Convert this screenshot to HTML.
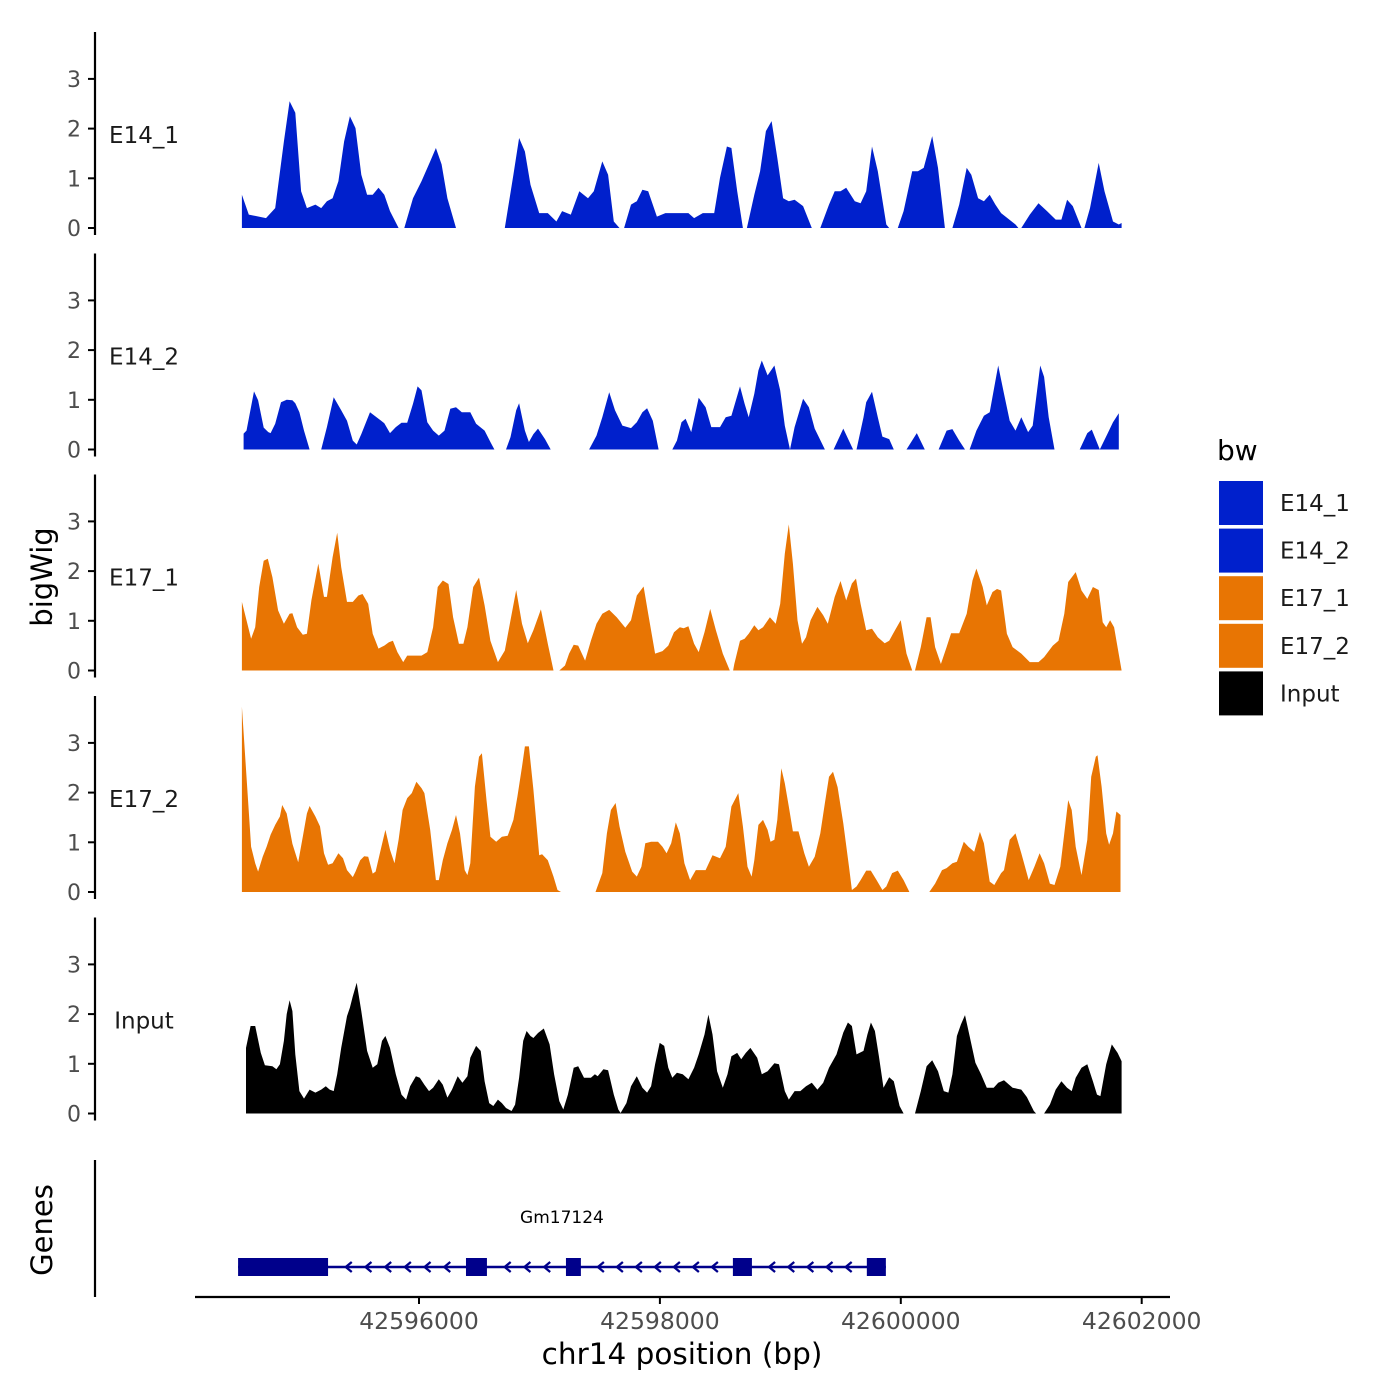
<!DOCTYPE html>
<html><head><meta charset="utf-8">
<style>
body{margin:0;background:#fff;}
svg{display:block;font-family:"DejaVu Sans","Liberation Sans",sans-serif;}
.tk{font-size:20px;fill:#4d4d4d;text-anchor:end;}
</style></head>
<body>
<svg id="chart" width="1400" height="1400" viewBox="0 0 1400 1400" xmlns="http://www.w3.org/2000/svg">
<g id="tracks"></g>
<g id="axes"></g>
<g id="genes"></g>
<g id="legend"></g>
</svg>
<script>
const trackNames = ["E14_1","E14_2","E17_1","E17_2","Input"];
const trackColors = ["#0020CC","#0020CC","#E87503","#E87503","#000000"];
const yTicks = [0,1,2,3];
const xTicks = [42596000,42598000,42600000,42602000];
const xTickLabels = ["42596000","42598000","42600000","42602000"];

const e14_1_pos = [42594530,42594587,42594730,42594806,42594878,42594926,42594973,42595021,42595069,42595140,42595188,42595235,42595283,42595331,42595378,42595426,42595473,42595521,42595569,42595616,42595664,42595712,42595759,42595831,null,
42595878,42595950,42596021,42596093,42596140,42596188,42596236,42596307,null,
42596712,42596784,42596831,42596879,42596926,42596998,42597069,42597141,42597188,42597260,42597331,42597403,42597451,42597522,42597570,42597617,42597665,null,
42597703,42597760,42597808,42597855,42597903,42597975,42598046,42598237,42598284,42598356,42598451,42598499,42598556,42598594,42598642,42598689,null,
42598722,42598784,42598832,42598880,42598927,42598975,42599023,42599070,42599118,42599189,42599261,null,
42599332,42599404,42599451,42599499,42599547,42599618,42599666,42599713,42599761,42599809,42599880,42599904,null,
42599975,42600023,42600095,42600142,42600190,42600261,42600309,42600366,null,
42600428,42600485,42600547,42600585,42600642,42600690,42600738,42600785,42600833,42600952,42600976,null,
42601000,42601071,42601143,42601214,42601286,42601333,42601381,42601428,42601500,null,
42601524,42601571,42601643,42601691,42601762,42601810,42601833];
const e14_1_val = [0.67,0.27,0.20,0.40,1.74,2.55,2.32,0.74,0.40,0.47,0.40,0.54,0.60,0.94,1.74,2.25,2.01,1.07,0.67,0.67,0.81,0.67,0.34,0,null,
0,0.60,0.94,1.34,1.61,1.28,0.60,0,null,
0,1.07,1.81,1.54,0.87,0.30,0.30,0.13,0.34,0.27,0.74,0.60,0.74,1.34,1.07,0.13,0,null,
0,0.47,0.54,0.77,0.74,0.23,0.30,0.30,0.20,0.30,0.30,1.01,1.64,1.61,0.74,0,null,
0,0.67,1.14,1.95,2.15,1.41,0.60,0.54,0.57,0.44,0,null,
0,0.47,0.74,0.74,0.81,0.54,0.50,0.74,1.64,1.14,0.07,0,null,
0,0.34,1.14,1.14,1.21,1.85,1.21,0,null,
0,0.47,1.21,1.07,0.60,0.54,0.67,0.47,0.30,0.07,0,null,
0,0.27,0.50,0.34,0.17,0.17,0.57,0.44,0,null,
0,0.40,1.31,0.74,0.13,0.07,0.10];

const e14_2_pos = [42594544,42594568,42594630,42594664,42594711,42594749,42594768,42594806,42594854,42594902,42594949,42594973,42595007,42595045,42595092,null,
42595188,42595235,42595292,42595354,42595402,42595450,42595483,42595521,42595593,42595664,42595712,42595759,42595807,42595855,42595902,42595950,42595988,42596021,42596069,42596117,42596164,42596212,42596260,42596307,42596355,42596426,42596474,42596545,42596593,42596626,null,
42596722,42596760,42596807,42596831,42596879,42596912,42596950,42596988,42597046,42597093,null,
42597412,42597474,42597522,42597579,42597627,42597689,42597760,42597808,42597855,42597894,42597941,42597989,null,
42598103,42598141,42598179,42598213,42598260,42598322,42598379,42598427,42598499,42598546,42598594,42598665,42598703,42598737,42598784,42598818,42598846,42598894,42598951,42598999,42599037,42599080,42599118,42599189,42599237,42599285,42599370,null,
42599442,42599523,42599604,null,
42599632,42599690,42599713,42599761,42599809,42599847,42599904,42599942,null,
42600047,42600133,42600199,null,
42600314,42600380,42600428,42600485,42600533,null,
42600571,42600628,42600690,42600738,42600809,42600857,42600904,42600952,42601000,42601057,42601095,42601157,42601190,42601228,42601276,null,
42601485,42601548,42601586,42601652,42601714,42601762,42601810];
const e14_2_val = [0.32,0.38,1.17,0.99,0.44,0.35,0.33,0.52,0.95,1.00,0.99,0.93,0.75,0.38,0,null,
0,0.45,1.05,0.79,0.58,0.18,0.10,0.31,0.75,0.62,0.53,0.33,0.45,0.54,0.54,0.92,1.27,1.19,0.55,0.38,0.28,0.38,0.82,0.85,0.75,0.75,0.52,0.38,0.15,0,null,
0,0.25,0.79,0.93,0.38,0.15,0.31,0.42,0.21,0,null,
0,0.28,0.65,1.15,0.79,0.48,0.43,0.55,0.75,0.83,0.58,0,null,
0,0.18,0.55,0.62,0.35,1.04,0.85,0.45,0.45,0.65,0.68,1.27,0.92,0.65,1.12,1.59,1.79,1.49,1.69,1.19,0.48,0,0.45,1.02,0.85,0.42,0,null,
0,0.42,0,null,
0,0.65,0.95,1.16,0.65,0.26,0.21,0,null,
0,0.33,0,null,
0,0.38,0.41,0.18,0,null,
0,0.38,0.68,0.75,1.69,1.12,0.58,0.38,0.65,0.35,0.48,1.69,1.46,0.65,0,null,
0,0.33,0.40,0,0.31,0.55,0.73];

const e17_1_pos = [42594530,42594568,42594606,42594640,42594673,42594711,42594745,42594783,42594830,42594878,42594926,42594949,42594988,42595035,42595069,42595107,42595164,42595211,42595235,42595283,42595321,42595354,42595402,42595450,42595497,42595531,42595578,42595616,42595664,42595712,42595750,42595783,42595821,42595869,42595902,42595950,42596021,42596069,42596117,42596155,42596198,42596245,42596283,42596331,42596369,42596402,42596450,42596498,42596545,42596593,42596655,42596712,42596760,42596807,42596855,42596903,42596950,42597012,42597069,42597117,null,
42597165,42597212,42597246,42597284,42597322,42597379,42597427,42597474,42597522,42597579,42597641,42597713,42597760,42597808,42597865,42597903,42597960,42598022,42598070,42598117,42598165,42598198,42598237,42598284,42598322,42598370,42598418,42598465,42598522,42598580,null,
42598608,42598618,42598665,42598703,42598737,42598784,42598818,42598856,42598913,42598961,42598999,42599037,42599070,42599104,42599142,42599180,42599213,42599251,42599308,42599356,42599394,42599451,42599499,42599547,42599594,42599628,42599666,42599713,42599761,42599809,42599866,42599904,42599952,42599999,42600047,42600095,null,
42600118,42600166,42600214,42600247,42600285,42600333,42600380,42600418,42600485,42600547,42600595,42600628,42600680,42600714,42600761,42600799,42600833,42600881,42600928,42601000,42601071,42601143,42601190,42601262,42601309,42601357,42601390,42601452,42601500,42601548,42601595,42601643,42601676,42601705,42601738,42601771,42601833];
const e17_1_val = [1.38,1.01,0.64,0.87,1.68,2.21,2.25,1.88,1.21,0.94,1.14,1.15,0.87,0.72,0.74,1.41,2.15,1.48,1.48,2.28,2.77,2.08,1.38,1.38,1.51,1.54,1.34,0.74,0.44,0.50,0.57,0.60,0.37,0.17,0.30,0.30,0.30,0.37,0.87,1.68,1.81,1.74,1.07,0.54,0.54,0.87,1.68,1.87,1.31,0.60,0.17,0.40,1.01,1.62,0.94,0.55,0.81,1.23,0.54,0,null,
0,0.10,0.34,0.52,0.50,0.20,0.60,0.94,1.14,1.22,1.07,0.86,1.01,1.51,1.69,1.14,0.34,0.39,0.50,0.77,0.87,0.85,0.89,0.54,0.37,0.77,1.24,0.81,0.34,0,null,
0,0.13,0.60,0.64,0.74,0.91,0.81,0.87,1.07,0.94,1.34,2.35,2.94,2.15,1.01,0.54,0.67,1.01,1.28,1.11,0.94,1.48,1.80,1.41,1.75,1.85,1.34,0.81,0.84,0.67,0.55,0.60,0.81,1.01,0.34,0,null,
0,0.47,1.07,1.07,0.47,0.13,0.47,0.75,0.75,1.14,1.81,2.05,1.68,1.31,1.58,1.64,1.61,0.74,0.47,0.34,0.17,0.17,0.27,0.50,0.60,1.14,1.78,1.98,1.61,1.44,1.68,1.62,0.97,0.87,1.01,0.87,0];

const e17_2_pos = [42594530,42594568,42594606,42594640,42594664,42594702,42594735,42594768,42594806,42594845,42594864,42594902,42594949,42594997,42595035,42595069,42595092,42595140,42595178,42595211,42595245,42595283,42595331,42595369,42595402,42595450,42595473,42595512,42595545,42595578,42595616,42595640,42595688,42595721,42595759,42595797,42595831,42595864,42595902,42595940,42595978,42596021,42596045,42596093,42596140,42596164,42596198,42596236,42596274,42596307,42596340,42596379,42596402,42596426,42596464,42596498,42596522,42596560,42596593,42596641,42596688,42596736,42596784,42596817,42596855,42596879,42596912,42596950,42596998,42597022,42597069,42597117,42597150,42597179,null,
42597465,42597522,42597560,42597593,42597632,42597665,42597713,42597770,42597808,42597846,42597879,42597927,42597984,42598022,42598056,42598094,42598132,42598165,42598203,42598251,42598298,42598379,42598437,42598499,42598546,42598594,42598651,42598689,42598727,42598761,42598784,42598818,42598856,42598894,42598918,42598951,42598975,42599008,42599037,42599070,42599104,42599151,42599199,42599237,42599285,42599332,42599370,42599404,42599437,42599475,42599523,42599570,42599594,42599632,42599666,42599713,42599751,42599799,42599847,42599880,42599928,42599975,42600023,42600071,null,
42600237,42600285,42600342,42600380,42600428,42600466,42600523,42600561,42600609,42600657,42600690,42600738,42600776,42600833,42600857,42600904,42600952,42601000,42601062,42601109,42601152,42601190,42601238,42601276,42601324,42601357,42601390,42601419,42601452,42601500,42601548,42601581,42601619,42601633,42601667,42601705,42601729,42601762,42601790,42601824];
const e17_2_val = [3.73,2.32,0.91,0.58,0.41,0.71,0.91,1.15,1.35,1.52,1.75,1.58,0.97,0.60,1.11,1.58,1.73,1.52,1.32,0.78,0.55,0.58,0.78,0.68,0.44,0.30,0.41,0.64,0.72,0.71,0.37,0.41,0.91,1.25,0.85,0.58,1.05,1.65,1.89,1.99,2.22,2.09,1.99,1.25,0.24,0.24,0.64,0.98,1.25,1.55,1.18,0.44,0.34,0.58,2.12,2.72,2.79,1.85,1.11,1.01,1.11,1.13,1.45,1.92,2.52,2.93,2.93,2.06,0.74,0.76,0.64,0.31,0.04,0,null,
0,0.38,1.18,1.65,1.79,1.32,0.81,0.41,0.31,0.51,0.98,1.01,1.01,0.91,0.78,0.98,1.40,1.18,0.58,0.24,0.44,0.44,0.74,0.68,0.91,1.72,1.99,1.32,0.51,0.31,0.64,1.35,1.45,1.25,1.01,1.05,1.45,2.49,2.19,1.72,1.22,1.22,0.78,0.51,0.71,1.18,1.79,2.32,2.42,2.11,1.38,0.51,0.04,0.11,0.24,0.43,0.43,0.24,0.04,0.11,0.38,0.43,0.24,0,null,
0,0.17,0.44,0.48,0.58,0.61,1.01,0.91,0.81,1.21,0.98,0.21,0.14,0.38,0.44,1.05,1.18,0.78,0.24,0.51,0.78,0.58,0.17,0.14,0.51,1.18,1.85,1.65,0.91,0.34,1.05,2.32,2.72,2.75,2.12,1.18,0.95,1.18,1.62,1.55];

const input_pos = [42594564,42594602,42594640,42594687,42594721,42594783,42594816,42594845,42594878,42594902,42594926,42594949,42594973,42595007,42595045,42595092,42595140,42595188,42595226,42595259,42595292,42595321,42595354,42595402,42595426,42595450,42595483,42595521,42595569,42595616,42595654,42595693,42595721,42595759,42595807,42595855,42595893,42595926,42595974,42596007,42596045,42596083,42596117,42596164,42596198,42596236,42596274,42596321,42596360,42596402,42596426,42596474,42596512,42596545,42596583,42596617,42596655,42596688,42596722,42596769,42596798,42596831,42596865,42596893,42596926,42596950,42596988,42597036,42597084,42597122,42597165,42597198,42597236,42597284,42597322,42597370,42597427,42597460,42597484,42597531,42597570,42597617,42597655,42597674,42597722,42597760,42597808,42597855,42597894,42597927,42597960,42597998,42598036,42598070,42598103,42598141,42598189,42598237,42598284,42598322,42598370,42598403,42598437,42598475,42598522,42598561,42598594,42598642,42598675,42598713,42598751,42598808,42598846,42598894,42598951,42598989,42599037,42599070,42599118,42599166,42599213,42599261,42599308,42599356,42599404,42599466,42599523,42599561,42599594,42599632,42599690,42599723,42599752,42599785,42599818,42599856,42599904,42599942,42599990,42600023,null,
42600118,42600166,42600214,42600261,42600309,42600357,42600395,42600428,42600466,42600499,42600533,42600571,42600619,42600666,42600714,42600771,42600809,42600857,42600928,42601000,42601047,42601104,42601123,null,
42601190,42601238,42601286,42601333,42601381,42601419,42601452,42601500,42601548,42601595,42601629,42601657,42601705,42601752,42601800,42601833];
const input_val = [1.32,1.76,1.76,1.22,0.97,0.95,0.89,0.99,1.46,2.00,2.28,2.06,1.19,0.45,0.30,0.48,0.42,0.48,0.55,0.48,0.45,0.79,1.32,1.96,2.13,2.36,2.63,2.06,1.26,0.92,0.99,1.46,1.56,1.32,0.79,0.38,0.28,0.55,0.75,0.72,0.58,0.45,0.52,0.69,0.58,0.32,0.48,0.75,0.62,0.75,1.12,1.36,1.26,0.65,0.21,0.15,0.28,0.21,0.11,0.05,0.18,0.72,1.46,1.66,1.56,1.52,1.62,1.71,1.39,0.79,0.25,0.08,0.38,0.92,0.95,0.72,0.72,0.79,0.75,0.89,0.87,0.38,0.08,0.01,0.21,0.55,0.75,0.52,0.42,0.55,0.99,1.42,1.36,0.92,0.72,0.82,0.79,0.69,0.92,1.19,1.59,1.99,1.59,0.85,0.52,0.79,1.15,1.22,1.09,1.22,1.32,1.12,0.79,0.85,1.01,0.99,0.45,0.28,0.45,0.45,0.55,0.62,0.48,0.62,0.92,1.19,1.63,1.83,1.76,1.19,1.26,1.59,1.83,1.66,1.15,0.52,0.73,0.65,0.15,0,null,
0,0.45,0.95,1.07,0.85,0.45,0.42,0.79,1.56,1.79,1.98,1.56,1.02,0.79,0.52,0.52,0.62,0.67,0.52,0.48,0.33,0.05,0,null,
0,0.18,0.48,0.65,0.52,0.45,0.72,0.92,0.99,0.65,0.38,0.35,0.99,1.39,1.22,1.05];

const trackPos = [e14_1_pos,e14_2_pos,e17_1_pos,e17_2_pos,input_pos];
const trackVal = [e14_1_val,e14_2_val,e17_1_val,e17_2_val,input_val];

const geneName = "Gm17124";
const geneStart = 42594498, geneEnd = 42599876;
const exonStarts = [42594498,42596390,42597220,42598606,42599718];
const exonEnds = [42595245,42596564,42597344,42598764,42599876];

const NS="http://www.w3.org/2000/svg";
function mk(tag,attrs,parent,text){const e=document.createElementNS(NS,tag);for(const k in attrs)e.setAttribute(k,attrs[k]);if(text!==undefined)e.textContent=text;parent.appendChild(e);return e;}
function xScale(bp){return 419+(bp-42596000)/1000*120.45;}
const panelBase=[228,449.5,670.5,892,1113.5];
const unitPx=49.7;
function yScale(i,v){return panelBase[i]-v*unitPx;}

const gT=document.getElementById('tracks');
const gA=document.getElementById('axes');
for(let i=0;i<5;i++){
  const pos=trackPos[i], val=trackVal[i];
  let d="", seg=[];
  const flush=()=>{ if(seg.length){ d+="M"+seg[0][0].toFixed(1)+","+panelBase[i]; seg.forEach(p=>{d+="L"+p[0].toFixed(1)+","+p[1].toFixed(1);}); d+="L"+seg[seg.length-1][0].toFixed(1)+","+panelBase[i]+"Z"; } seg=[]; };
  for(let j=0;j<pos.length;j++){
    if(pos[j]===null||val[j]===null){flush();continue;}
    seg.push([xScale(pos[j]),yScale(i,val[j])]);
  }
  flush();
  const p=mk('path',{d:d,fill:trackColors[i]},gT);
  
  
  const top=panelBase[i]-196, bot=panelBase[i]+7;
  const ax=mk('line',{x1:95,x2:95,y1:top,y2:bot,stroke:'#000','stroke-width':2.2},gA);
  
  
  yTicks.forEach(t=>{
    const y=yScale(i,t);
    const tl=mk('line',{x1:88,x2:95,y1:y,y2:y,stroke:'#000','stroke-width':2},gA);
    
    
    const tx=mk('text',{x:81,y:y+8,'font-size':22,fill:'#4d4d4d','text-anchor':'end'},gA,String(t));
    
    
  });
  const lab=mk('text',{x:144,y:panelBase[i]-85,'font-size':23,'text-anchor':'middle',fill:'#1a1a1a'},gA,trackNames[i]);
  
  
}
let t1=mk('text',{x:0,y:0,'font-size':29,'text-anchor':'middle',transform:'translate(52,577) rotate(-90)'},gA,'bigWig');


let t2=mk('text',{x:0,y:0,'font-size':29,'text-anchor':'middle',transform:'translate(52,1230) rotate(-90)'},gA,'Genes');


let ga=mk('line',{x1:95,x2:95,y1:1160,y2:1297,stroke:'#000','stroke-width':2.2},gA);


let xa=mk('line',{x1:195,x2:1170,y1:1297,y2:1297,stroke:'#000','stroke-width':2.2},gA);


xTicks.forEach((t,k)=>{
  const x=xScale(t);
  const tl=mk('line',{x1:x,x2:x,y1:1297,y2:1304,stroke:'#000','stroke-width':2},gA);
  
  
  const tx=mk('text',{x:x,y:1329,'font-size':23.5,fill:'#4d4d4d','text-anchor':'middle'},gA,xTickLabels[k]);
  
  
});
let xt=mk('text',{x:682,y:1364,'font-size':29.5,'text-anchor':'middle'},gA,'chr14 position (bp)');



const gG=document.getElementById('genes');
const gy=1267, navy='#00008B';
let gl=mk('line',{x1:xScale(geneStart),x2:xScale(geneEnd),y1:gy,y2:gy,stroke:navy,'stroke-width':2.5},gG);


for(let k=0;k<exonStarts.length-1;k++){
  const a=xScale(exonEnds[k]), b=xScale(exonStarts[k+1]);
  const n=Math.max(1,Math.floor((b-a)/17.5));
  const step=(b-a)/n;
  for(let m=1;m<n;m++){
    const x=a+m*step;
    const ar=mk('path',{d:`M${x+4},${gy-5}L${x-2},${gy}L${x+4},${gy+5}`,fill:'none',stroke:navy,'stroke-width':2.3},gG);
    
    
  }
}
for(let k=0;k<exonStarts.length;k++){
  const x0=xScale(exonStarts[k]), x1=xScale(exonEnds[k]);
  const r=mk('rect',{x:x0,y:gy-9,width:x1-x0,height:18,fill:navy},gG);
  
  
}
let gn=mk('text',{x:xScale((geneStart+geneEnd)/2),y:1223,'font-size':17,'text-anchor':'middle'},gG,geneName);



const gL=document.getElementById('legend');
let lt=mk('text',{x:1217,y:460,'font-size':28},gL,'bw');


trackNames.forEach((n,k)=>{
  const y=480+k*47.6;
  const r=mk('rect',{x:1218,y:y,width:46,height:46,fill:trackColors[k],stroke:'#fff','stroke-width':2},gL);
  
  
  const t=mk('text',{x:1280,y:y+31,'font-size':23,fill:'#1a1a1a'},gL,n);
  
  
});
</script>
</body></html>
